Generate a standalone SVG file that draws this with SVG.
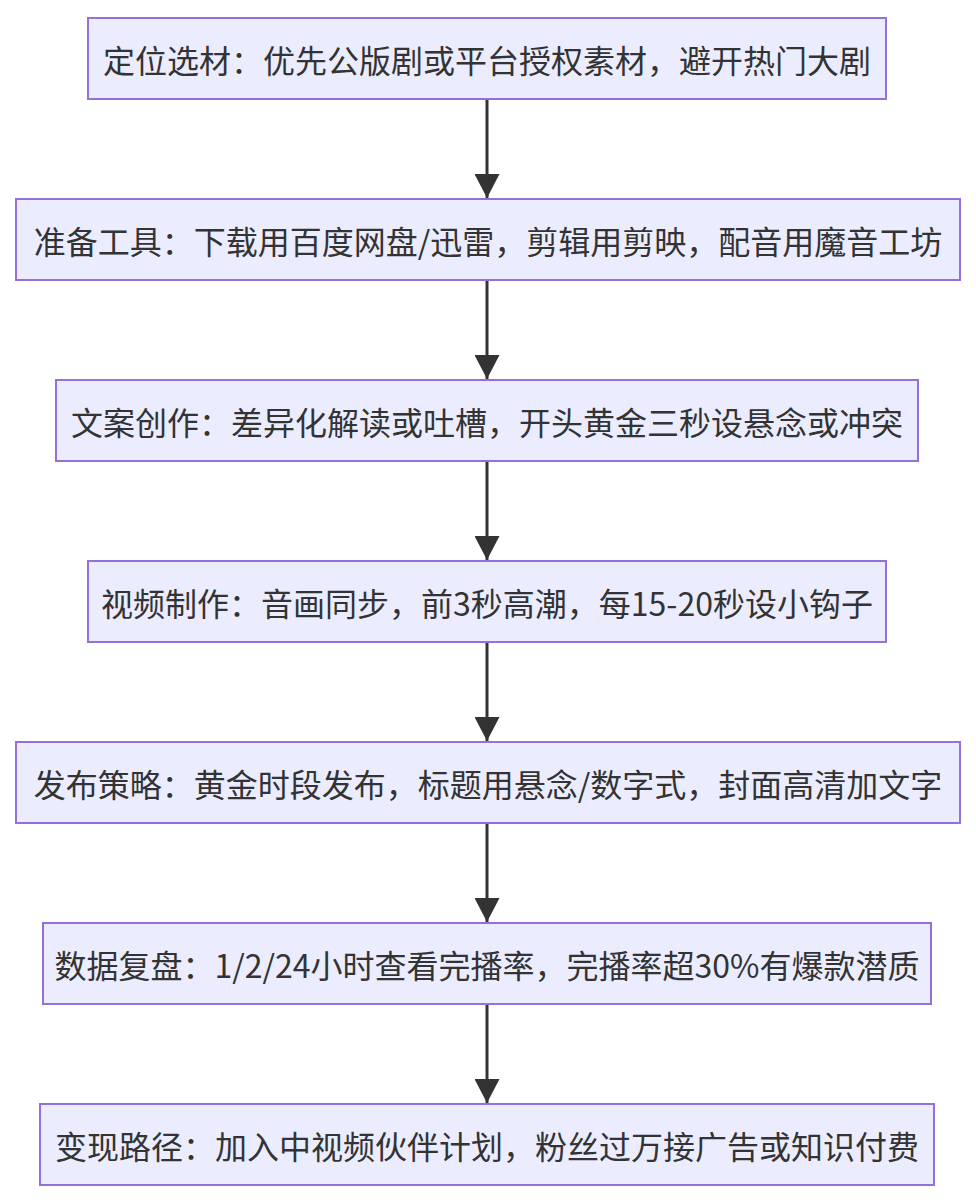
<svg xmlns="http://www.w3.org/2000/svg" width="976" height="1204" viewBox="0 0 976 1204">
<style>
.node rect{fill:#ECECFF;stroke:#9370DB;stroke-width:2}
.node text{font-family:"Noto Sans CJK SC","Noto Sans",sans-serif;font-size:32px;fill:#333;text-anchor:middle;dominant-baseline:central}
.edge{stroke:#333;stroke-width:3;fill:none}
</style>
<defs>
<marker id="arrow" viewBox="0 0 24 25" refX="24" refY="12.5" markerWidth="24" markerHeight="25" markerUnits="userSpaceOnUse" orient="auto">
<path d="M0,0 L24,12.5 L0,25 Z" fill="#333"/>
</marker>
</defs>
<rect width="976" height="1204" fill="#fff"/>
<g id="connectors">
<line class="edge" x1="487" y1="99" x2="487" y2="198" marker-end="url(#arrow)"/>
<line class="edge" x1="487" y1="280" x2="487" y2="379" marker-end="url(#arrow)"/>
<line class="edge" x1="487" y1="461" x2="487" y2="560" marker-end="url(#arrow)"/>
<line class="edge" x1="487" y1="642" x2="487" y2="741" marker-end="url(#arrow)"/>
<line class="edge" x1="487" y1="823" x2="487" y2="922" marker-end="url(#arrow)"/>
<line class="edge" x1="487" y1="1004" x2="487" y2="1103" marker-end="url(#arrow)"/>
</g>
<g id="n1" class="node"><rect x="88" y="18" width="798" height="81"/><text x="487" y="58.5">定位选材：优先公版剧或平台授权素材，避开热门大剧</text></g>
<g id="n2" class="node"><rect x="16" y="199" width="944" height="81"/><text x="488" y="239.5">准备工具：下载用百度网盘/迅雷，剪辑用剪映，配音用魔音工坊</text></g>
<g id="n3" class="node"><rect x="56" y="380" width="862" height="81"/><text x="487" y="420.5">文案创作：差异化解读或吐槽，开头黄金三秒设悬念或冲突</text></g>
<g id="n4" class="node"><rect x="88" y="561" width="798" height="81"/><text x="487" y="601.5">视频制作：音画同步，前3秒高潮，每15-20秒设小钩子</text></g>
<g id="n5" class="node"><rect x="16" y="742" width="944" height="81"/><text x="488" y="782.5">发布策略：黄金时段发布，标题用悬念/数字式，封面高清加文字</text></g>
<g id="n6" class="node"><rect x="43" y="923" width="888" height="81"/><text x="487" y="963.5">数据复盘：1/2/24小时查看完播率，完播率超30%有爆款潜质</text></g>
<g id="n7" class="node"><rect x="40" y="1104" width="894" height="81"/><text x="487" y="1144.5">变现路径：加入中视频伙伴计划，粉丝过万接广告或知识付费</text></g>
</svg>
